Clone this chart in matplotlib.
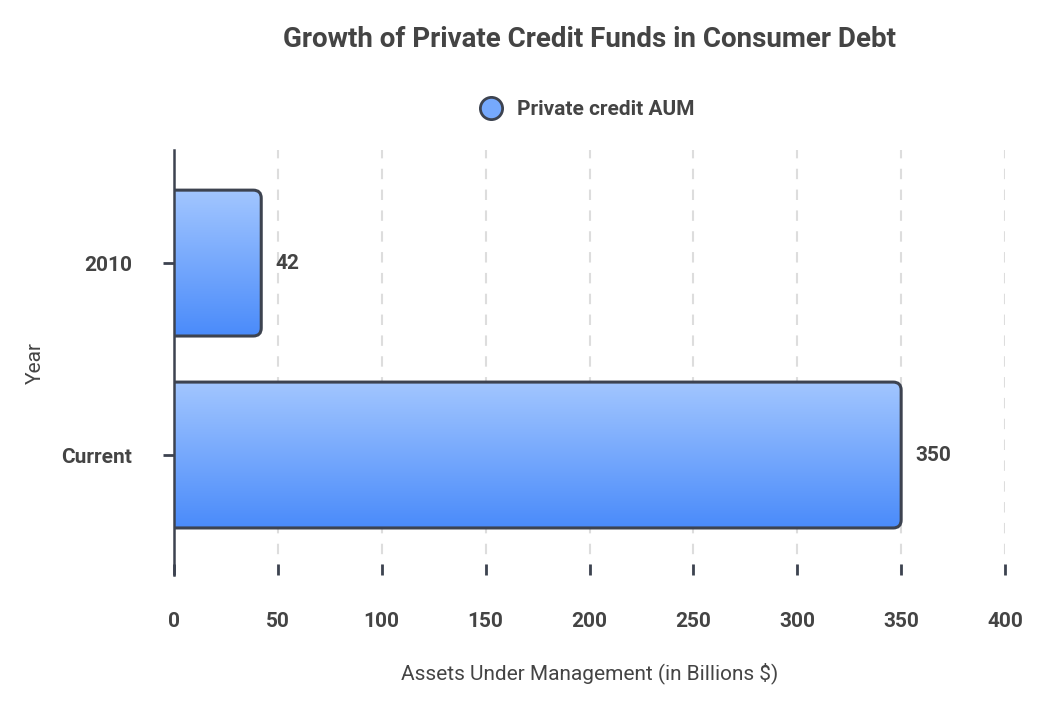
import matplotlib.pyplot as plt
import numpy as np
from matplotlib.patches import FancyBboxPatch
from matplotlib.colors import LinearSegmentedColormap
from matplotlib.lines import Line2D

categories = ["Current", "2010"]
aum_values = [350, 42]
x_ticks = [0, 50, 100, 150, 200, 250, 300, 350, 400]

TEXT = "#444444"
EDGE = "#3d4350"

plt.rcParams["font.family"] = ["Roboto", "DejaVu Sans"]

fig = plt.figure(figsize=(10.48, 7.11), dpi=100)
ax = fig.add_axes([0.166, 0.1913, 0.793, 0.5977])

ax.set_xlim(0, 400)
ax.set_ylim(-0.625, 1.589)

grad = LinearSegmentedColormap.from_list("bar", ["#4a8bfa", "#a2c6ff"])
bar_h = 0.76
px_x = 831 / 400.0
px_y = 192.0
rad = 8 / px_x
aspect = (8 / px_y) / rad

for i, (cat, val) in enumerate(zip(categories, aum_values)):
    y0 = i - bar_h / 2
    patch = FancyBboxPatch(
        (-20, y0), val + 20, bar_h,
        boxstyle=f"round,pad=0,rounding_size={rad}",
        mutation_aspect=aspect,
        facecolor="none", edgecolor=EDGE, linewidth=2.2, zorder=3,
    )
    ax.add_patch(patch)
    img = ax.imshow(
        np.linspace(0, 1, 256).reshape(-1, 1),
        cmap=grad, aspect="auto", origin="lower",
        extent=(-20, val, y0, y0 + bar_h), zorder=2,
    )
    img.set_clip_path(patch)
    ax.text(val + 14 / px_x, i, f"{val}", va="center", ha="left",
            fontsize=15, fontweight="bold", color=TEXT)

ax.set_yticks(range(len(categories)))
ax.set_yticklabels(categories)
ax.set_xticks(x_ticks)
ax.set_xticklabels([str(t) for t in x_ticks])

ax.grid(axis="x", linestyle=(0, (5, 5)), color="#dddddd", linewidth=1.5, zorder=0)
ax.set_axisbelow(True)

for side in ["top", "right", "bottom"]:
    ax.spines[side].set_visible(False)
ax.spines["left"].set_color(EDGE)
ax.spines["left"].set_linewidth(1.8)

ax.tick_params(axis="x", length=8, width=2, color=EDGE, direction="in", pad=27,
               labelsize=15, labelcolor=TEXT)
ax.tick_params(axis="y", length=8, width=2, color=EDGE, pad=22,
               labelsize=15, labelcolor=TEXT)
for lbl in ax.get_xticklabels() + ax.get_yticklabels():
    lbl.set_fontweight("bold")

ax.set_xlabel("Assets Under Management (in Billions $)", fontsize=15,
              color=TEXT, labelpad=22)
ax.set_ylabel("Year", fontsize=15, color=TEXT, labelpad=12)

fig.text(0.5625, 0.945, "Growth of Private Credit Funds in Consumer Debt",
         ha="center", va="center", fontsize=20, fontweight="bold", color=TEXT)

handle = Line2D([], [], marker="o", linestyle="none", markersize=16,
                markerfacecolor="#76a9fd", markeredgecolor=EDGE,
                markeredgewidth=2)
leg = fig.legend([handle], ["Private credit AUM"], loc="center",
                 bbox_to_anchor=(0.556, 0.846), frameon=False,
                 prop={"size": 15, "weight": "bold"}, handletextpad=0.25)
for t in leg.get_texts():
    t.set_color(TEXT)

fig.savefig("out.png", dpi=100)
plt.close(fig)
